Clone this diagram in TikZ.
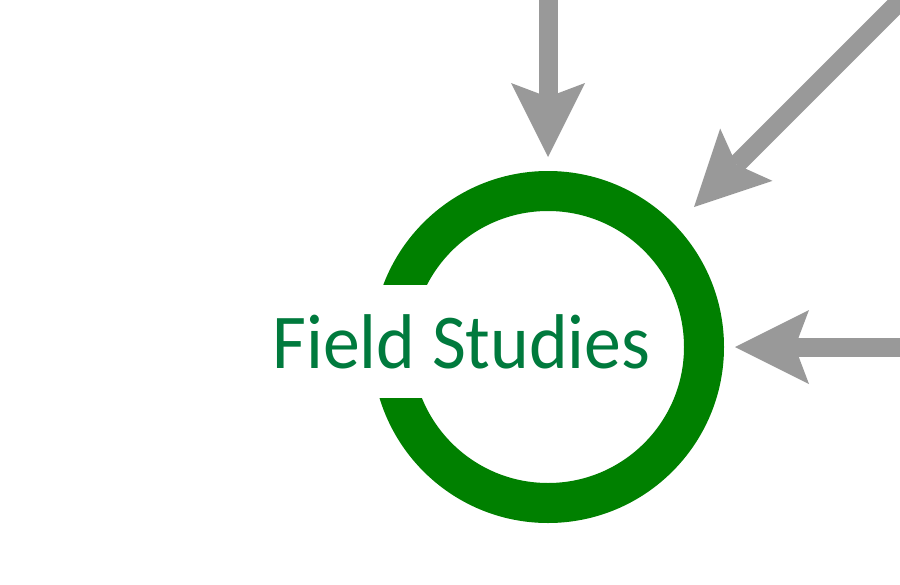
\documentclass[tikz,border=0pt]{standalone}
\usepackage{fontspec}
\setmainfont{Carlito}
\newfontfamily\labelfont[FakeStretch=0.95]{Carlito}
\usetikzlibrary{arrows.meta}
\definecolor{ringgreen}{RGB}{0,128,0}
\definecolor{textgreen}{RGB}{0,122,61}
\definecolor{arrowgray}{RGB}{153,153,153}
\tikzset{
  ringstyle/.style={circle, draw=ringgreen, line width=40pt, minimum size=312pt, inner sep=0pt, outer sep=0pt},
  labelstyle/.style={fill=white, text=textgreen, inner xsep=2pt, inner ysep=0pt, text height=83pt, text depth=30pt, font=\labelfont\fontsize{77.6pt}{80pt}\selectfont},
  feed/.style={draw=arrowgray, line width=19pt, -{Stealth[length=74pt, width=74pt, inset=14pt, line width=0pt, round=false]}}
}
\begin{document}
\begin{tikzpicture}[x=1pt, y=-1pt]
\useasboundingbox (0,0) rectangle (900,584);
\clip (0,0) rectangle (900,584);
\node[ringstyle] (ring) at (548,347) {};
\node[labelstyle, anchor=base] (label) at (461.5,368) {Field Studies};
\coordinate (topsrc) at (548,-10);
\coordinate (topend) at (548,157);
\coordinate (diagsrc) at (915,-14);
\coordinate (diagend) at (694,207);
\coordinate (rightsrc) at (910,347);
\coordinate (rightend) at (735,347);
\draw[feed] (topsrc) -- (topend);
\draw[feed] (diagsrc) -- (diagend);
\draw[feed] (rightsrc) -- (rightend);
\end{tikzpicture}
\end{document}
